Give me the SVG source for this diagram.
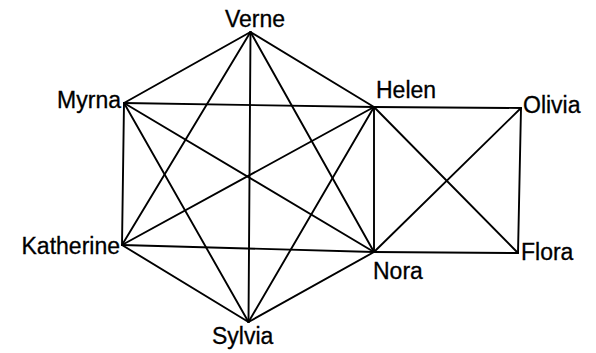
<svg xmlns="http://www.w3.org/2000/svg" width="596" height="353" viewBox="0 0 596 353">
<style>
.e{stroke:#000;stroke-width:1.9;fill:none;stroke-linecap:round}
.t{font-family:"Liberation Sans",Arial,sans-serif;font-size:23px;fill:#000;stroke:#000;stroke-width:0.3}
</style>
<rect width="596" height="353" fill="#fff"/>
<g id="connectors">
<line class="e" x1="250.5" y1="32" x2="124" y2="103"/>
<line class="e" x1="250.5" y1="32" x2="374" y2="107"/>
<line class="e" x1="250.5" y1="32" x2="122" y2="245"/>
<line class="e" x1="250.5" y1="32" x2="374" y2="252"/>
<line class="e" x1="250.5" y1="32" x2="248.5" y2="322"/>
<line class="e" x1="124" y1="103" x2="374" y2="107"/>
<line class="e" x1="124" y1="103" x2="122" y2="245"/>
<line class="e" x1="124" y1="103" x2="374" y2="252"/>
<line class="e" x1="124" y1="103" x2="248.5" y2="322"/>
<line class="e" x1="374" y1="107" x2="122" y2="245"/>
<line class="e" x1="374" y1="107" x2="374" y2="252"/>
<line class="e" x1="374" y1="107" x2="248.5" y2="322"/>
<line class="e" x1="122" y1="245" x2="374" y2="252"/>
<line class="e" x1="122" y1="245" x2="248.5" y2="322"/>
<line class="e" x1="374" y1="252" x2="248.5" y2="322"/>
<line class="e" x1="374" y1="107" x2="521" y2="108"/>
<line class="e" x1="374" y1="107" x2="518" y2="253"/>
<line class="e" x1="374" y1="252" x2="521" y2="108"/>
<line class="e" x1="374" y1="252" x2="518" y2="253"/>
<line class="e" x1="521" y1="108" x2="518" y2="253"/>
</g>
<g id="Verne"><text class="t" x="225" y="27">Verne</text></g>
<g id="Myrna"><text class="t" x="121" y="108" text-anchor="end">Myrna</text></g>
<g id="Helen"><text class="t" x="376" y="98">Helen</text></g>
<g id="Olivia"><text class="t" x="523" y="113">Olivia</text></g>
<g id="Katherine"><text class="t" x="120" y="254" text-anchor="end">Katherine</text></g>
<g id="Nora"><text class="t" x="373" y="279">Nora</text></g>
<g id="Flora"><text class="t" x="521" y="260">Flora</text></g>
<g id="Sylvia"><text class="t" x="212" y="344">Sylvia</text></g>
</svg>
